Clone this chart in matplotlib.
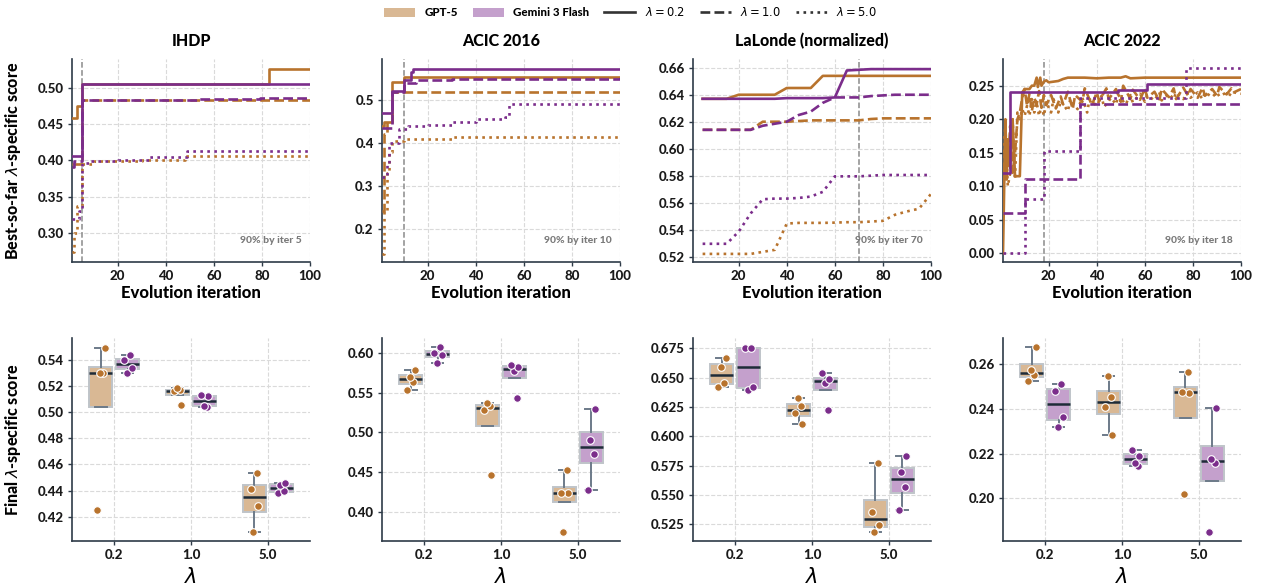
import numpy as np
import matplotlib
matplotlib.use("Agg")
import matplotlib.pyplot as plt
from matplotlib.lines import Line2D
from matplotlib.patches import Patch
from matplotlib.ticker import MultipleLocator, FormatStrFormatter
from matplotlib import font_manager

plt.rcParams['font.family'] = ['Lato', 'DejaVu Sans']
plt.rcParams['mathtext.fontset'] = 'dejavusans'

# heaviest installed Lato weight (falls back to bold)
_lato_weights = [int(f.weight) for f in font_manager.fontManager.ttflist
                 if f.name == 'Lato' and f.style == 'normal' and str(f.weight).isdigit()]
HEAVY = max([w for w in _lato_weights if w <= 900] + [700])

# ---------------------------------------------------------------- data
DATASETS = ['IHDP', 'ACIC 2016', 'LaLonde (normalized)', 'ACIC 2022']
MODELS = ['GPT-5', 'Gemini 3 Flash']
LAMBDAS = ['0.2', '1.0', '5.0']
ITER_90 = [5, 10, 70, 18]

# best-so-far curves: (iteration, score) change points
IHDP_GPT_L02 = [(1, 0.458), (3, 0.475), (5, 0.505), (83, 0.526), (100, 0.526)]
IHDP_GPT_L10 = [(1, 0.395), (5, 0.483), (100, 0.483)]
IHDP_GPT_L50 = [(1, 0.275), (2, 0.300), (3, 0.338), (5, 0.395), (10, 0.399),
                (15, 0.400), (30, 0.401), (48, 0.406), (100, 0.406)]
IHDP_GEM_L02 = [(1, 0.406), (5, 0.505), (100, 0.505)]
IHDP_GEM_L10 = [(1, 0.391), (2, 0.400), (5, 0.483), (54, 0.485), (79, 0.486), (100, 0.486)]
IHDP_GEM_L50 = [(1, 0.320), (4, 0.330), (5, 0.397), (8, 0.400), (20, 0.401),
                (33, 0.405), (49, 0.413), (100, 0.413)]

ACIC16_GPT_L02 = [(1, 0.440), (2, 0.450), (5, 0.542), (10, 0.555), (100, 0.555)]
ACIC16_GPT_L10 = [(1, 0.240), (2, 0.420), (3, 0.450), (5, 0.519), (100, 0.519)]
ACIC16_GPT_L50 = [(1, 0.140), (2, 0.240), (3, 0.330), (4, 0.380), (5, 0.405),
                  (10, 0.409), (30, 0.415), (100, 0.415)]
ACIC16_GEM_L02 = [(1, 0.470), (5, 0.522), (10, 0.547), (13, 0.565), (14, 0.573), (100, 0.573)]
ACIC16_GEM_L10 = [(1, 0.435), (5, 0.520), (10, 0.540), (15, 0.547), (30, 0.550), (100, 0.551)]
ACIC16_GEM_L50 = [(1, 0.320), (3, 0.350), (4, 0.400), (8, 0.433), (12, 0.439), (20, 0.441),
                  (30, 0.450), (40, 0.455), (52, 0.460), (54, 0.491), (100, 0.491)]

LALONDE_ITERS = [5, 10, 15, 20, 25, 30, 35, 40, 45, 50,
                 55, 60, 65, 70, 75, 80, 85, 90, 95, 100]
LALONDE_GPT_L02 = [0.637, 0.637, 0.637, 0.640, 0.640, 0.640, 0.640, 0.645, 0.645, 0.645,
                   0.654, 0.654, 0.654, 0.654, 0.654, 0.654, 0.654, 0.654, 0.654, 0.654]
LALONDE_GPT_L10 = [0.614, 0.614, 0.614, 0.614, 0.614, 0.620, 0.620, 0.620, 0.6205, 0.621,
                   0.621, 0.621, 0.621, 0.621, 0.622, 0.6225, 0.6225, 0.6225, 0.6225, 0.6225]
LALONDE_GPT_L50 = [0.522, 0.522, 0.522, 0.522, 0.522, 0.5235, 0.525, 0.5445, 0.545, 0.545,
                   0.545, 0.5452, 0.5455, 0.5455, 0.546, 0.5465, 0.551, 0.5535, 0.5555, 0.5665]
LALONDE_GEM_L02 = [0.637, 0.637, 0.637, 0.637, 0.637, 0.637, 0.637, 0.6375, 0.6375, 0.6375,
                   0.6375, 0.638, 0.658, 0.6585, 0.659, 0.659, 0.659, 0.659, 0.659, 0.659]
LALONDE_GEM_L10 = [0.614, 0.614, 0.614, 0.614, 0.614, 0.617, 0.6185, 0.620, 0.625, 0.6275,
                   0.634, 0.638, 0.638, 0.638, 0.639, 0.6395, 0.640, 0.640, 0.640, 0.640]
LALONDE_GEM_L50 = [0.5295, 0.5295, 0.5295, 0.5385, 0.552, 0.5625, 0.563, 0.563, 0.5635, 0.5645,
                   0.568, 0.5795, 0.5795, 0.5795, 0.580, 0.5805, 0.5805, 0.5805, 0.5805, 0.5805]

ACIC22_GPT_L02 = [(1, 0.000), (2, 0.200), (2.5, 0.110), (3, 0.170), (4, 0.130), (5, 0.200),
                  (6, 0.115), (8, 0.115), (9, 0.240), (10, 0.245), (12, 0.245), (13, 0.250),
                  (14, 0.250), (15, 0.262), (15.5, 0.248), (16.5, 0.262), (17, 0.250), (18, 0.256),
                  (19, 0.258), (20, 0.255), (22, 0.256), (24, 0.257), (26, 0.260), (28, 0.262),
                  (35, 0.262), (40, 0.261), (45, 0.262), (50, 0.262), (52, 0.264), (54, 0.261),
                  (60, 0.262), (100, 0.262)]
ACIC22_GPT_L10 = [(1, 0.100), (2, 0.170), (3, 0.130), (4, 0.190), (5, 0.120), (6, 0.150),
                  (7, 0.200), (8, 0.210), (9, 0.232), (10, 0.245), (11, 0.220), (12, 0.238),
                  (13, 0.212), (14, 0.232), (15, 0.222), (16, 0.242), (17, 0.217), (18, 0.236),
                  (19, 0.221), (21, 0.236), (23, 0.216), (25, 0.234), (26, 0.222), (28, 0.241),
                  (30, 0.215), (31, 0.236), (34, 0.226), (35, 0.246), (38, 0.221), (40, 0.240),
                  (41, 0.227), (44, 0.246), (45, 0.230), (48, 0.245), (50, 0.226), (51, 0.250),
                  (54, 0.230), (55, 0.244), (58, 0.229), (60, 0.246), (61, 0.232), (64, 0.241),
                  (66, 0.228), (67, 0.245), (70, 0.233), (72, 0.246), (73, 0.230), (76, 0.247),
                  (78, 0.235), (79, 0.245), (82, 0.232), (84, 0.247), (85, 0.235), (88, 0.245),
                  (90, 0.235), (91, 0.248), (94, 0.237), (96, 0.246), (97, 0.240), (100, 0.245)]
ACIC22_GPT_L50 = [(1, 0.150), (2, 0.190), (3, 0.100), (4, 0.120), (5, 0.200), (6, 0.110),
                  (7, 0.210), (8, 0.200), (9, 0.215), (10, 0.205), (11, 0.220), (12, 0.205),
                  (13, 0.230), (14, 0.210), (15, 0.225), (16, 0.205), (17, 0.220), (18, 0.205),
                  (19, 0.225), (21, 0.210), (22, 0.230), (24, 0.210), (25, 0.228), (28, 0.212),
                  (29, 0.230), (32, 0.215), (34, 0.232), (36, 0.210), (37, 0.230), (40, 0.220),
                  (42, 0.235), (43, 0.218), (46, 0.232), (48, 0.222), (49, 0.236), (52, 0.222),
                  (54, 0.236), (55, 0.225), (58, 0.238), (60, 0.226), (61, 0.236), (64, 0.228),
                  (66, 0.240), (67, 0.228), (70, 0.238), (72, 0.230), (73, 0.240), (76, 0.230),
                  (78, 0.240), (79, 0.232), (82, 0.240), (84, 0.230), (85, 0.240), (88, 0.233),
                  (90, 0.240), (91, 0.234), (94, 0.240), (96, 0.235), (97, 0.240), (100, 0.238)]
ACIC22_GEM_L02 = [(1, 0.120), (4, 0.240), (49, 0.2435), (61, 0.2525), (100, 0.2525)]
ACIC22_GEM_L10 = [(1, 0.060), (10, 0.111), (33, 0.223), (100, 0.224)]
ACIC22_GEM_L50 = [(1, 0.000), (10, 0.081), (18, 0.153), (33, 0.231), (77, 0.276), (100, 0.276)]

# final scores per seed, one list per lambda (0.2, 1.0, 5.0)
IHDP_GPT_FINAL = [[0.425, 0.530, 0.530, 0.549],
                  [0.5055, 0.516, 0.5167, 0.5185],
                  [0.4085, 0.4284, 0.4415, 0.4532]]
IHDP_GEM_FINAL = [[0.5298, 0.5339, 0.540, 0.5436],
                  [0.504, 0.505, 0.5125, 0.5135],
                  [0.4378, 0.4395, 0.4445, 0.4458]]
ACIC16_GPT_FINAL = [[0.553, 0.563, 0.570, 0.578],
                    [0.4463, 0.528, 0.5335, 0.5365],
                    [0.3754, 0.4246, 0.4246, 0.4526]]
ACIC16_GEM_FINAL = [[0.5866, 0.5967, 0.600, 0.6071],
                    [0.5428, 0.5766, 0.5825, 0.5841],
                    [0.428, 0.4727, 0.4906, 0.529]]
LALONDE_GPT_FINAL = [[0.6423, 0.6457, 0.6594, 0.667],
                     [0.6105, 0.6196, 0.6261, 0.6327],
                     [0.5187, 0.5244, 0.5355, 0.577]]
LALONDE_GEM_FINAL = [[0.6395, 0.6423, 0.6752, 0.6757],
                     [0.6224, 0.6452, 0.6489, 0.6537],
                     [0.5372, 0.5571, 0.5699, 0.5832]]
ACIC22_GPT_FINAL = [[0.2524, 0.2548, 0.2572, 0.2674],
                    [0.2282, 0.2408, 0.2453, 0.2547],
                    [0.2018, 0.2472, 0.2476, 0.2563]]
ACIC22_GEM_FINAL = [[0.2319, 0.2361, 0.248, 0.2512],
                    [0.2144, 0.2159, 0.219, 0.2215],
                    [0.1848, 0.2156, 0.2174, 0.2405]]

# ---------------------------------------------------------------- styling
LINE_COLORS = {'GPT-5': '#B8732D', 'Gemini 3 Flash': '#7B2D8B'}
FILL_COLORS = {'GPT-5': '#D9B894', 'Gemini 3 Flash': '#C4A0CC'}
LINESTYLES = {'0.2': '-', '1.0': '--', '5.0': ':'}
SPINE = '#2E3B48'
GRID = '#DADADA'

TOP_YLIM = [(0.2606, 0.5394), (0.122, 0.596), (0.516, 0.6665), (-0.013, 0.2898)]
TOP_YSTEP = [0.05, 0.1, 0.02, 0.05]
TOP_YFMT = ['%.2f', '%.1f', '%.2f', '%.2f']
BOT_YLIM = [(0.4014, 0.5568), (0.364, 0.6184), (0.5108, 0.6838), (0.181, 0.2715)]
BOT_YSTEP = [0.02, 0.05, 0.025, 0.02]
BOT_YFMT = ['%.2f', '%.2f', '%.3f', '%.2f']

step_curves = [
    {('GPT-5', '0.2'): IHDP_GPT_L02, ('GPT-5', '1.0'): IHDP_GPT_L10, ('GPT-5', '5.0'): IHDP_GPT_L50,
     ('Gemini 3 Flash', '0.2'): IHDP_GEM_L02, ('Gemini 3 Flash', '1.0'): IHDP_GEM_L10,
     ('Gemini 3 Flash', '5.0'): IHDP_GEM_L50},
    {('GPT-5', '0.2'): ACIC16_GPT_L02, ('GPT-5', '1.0'): ACIC16_GPT_L10, ('GPT-5', '5.0'): ACIC16_GPT_L50,
     ('Gemini 3 Flash', '0.2'): ACIC16_GEM_L02, ('Gemini 3 Flash', '1.0'): ACIC16_GEM_L10,
     ('Gemini 3 Flash', '5.0'): ACIC16_GEM_L50},
    None,
    {('Gemini 3 Flash', '0.2'): ACIC22_GEM_L02, ('Gemini 3 Flash', '1.0'): ACIC22_GEM_L10,
     ('Gemini 3 Flash', '5.0'): ACIC22_GEM_L50},
]
lalonde_curves = {('GPT-5', '0.2'): LALONDE_GPT_L02, ('GPT-5', '1.0'): LALONDE_GPT_L10,
                  ('GPT-5', '5.0'): LALONDE_GPT_L50, ('Gemini 3 Flash', '0.2'): LALONDE_GEM_L02,
                  ('Gemini 3 Flash', '1.0'): LALONDE_GEM_L10, ('Gemini 3 Flash', '5.0'): LALONDE_GEM_L50}
acic22_noisy = {('GPT-5', '0.2'): ACIC22_GPT_L02, ('GPT-5', '1.0'): ACIC22_GPT_L10,
                ('GPT-5', '5.0'): ACIC22_GPT_L50}

finals = [
    (IHDP_GPT_FINAL, IHDP_GEM_FINAL),
    (ACIC16_GPT_FINAL, ACIC16_GEM_FINAL),
    (LALONDE_GPT_FINAL, LALONDE_GEM_FINAL),
    (ACIC22_GPT_FINAL, ACIC22_GEM_FINAL),
]

# ---------------------------------------------------------------- figure
fig = plt.figure(figsize=(12.61, 5.87), dpi=100)
W, H = 1261.0, 587.0
lefts_px = [72, 382, 693, 1003]
ax_w = 238 / W
ax_h = 203 / H
top_axes = [fig.add_axes([l / W, 1 - 262 / H, ax_w, ax_h]) for l in lefts_px]
bot_axes = [fig.add_axes([l / W, 1 - 541 / H, ax_w, ax_h]) for l in lefts_px]

TICK_FS = 9.5


def style_axes(ax):
    for side in ('top', 'right'):
        ax.spines[side].set_visible(False)
    for side in ('left', 'bottom'):
        ax.spines[side].set_color(SPINE)
        ax.spines[side].set_linewidth(1.2)
    ax.grid(True, color=GRID, linestyle='--', linewidth=0.8)
    ax.set_axisbelow(True)
    ax.tick_params(axis='both', labelsize=TICK_FS, colors=SPINE, length=3, width=1,
                   labelcolor='#1A1A1A', pad=3)
    for lab in ax.get_xticklabels() + ax.get_yticklabels():
        lab.set_fontweight(HEAVY)


for i, ax in enumerate(top_axes):
    ax.set_xlim(1, 100)
    ax.set_ylim(*TOP_YLIM[i])
    ax.xaxis.set_major_locator(MultipleLocator(20))
    ax.yaxis.set_major_locator(MultipleLocator(TOP_YSTEP[i]))
    ax.yaxis.set_major_formatter(FormatStrFormatter(TOP_YFMT[i]))

    for model in MODELS:
        for lam in LAMBDAS:
            key = (model, lam)
            kw = dict(color=LINE_COLORS[model], linestyle=LINESTYLES[lam], lw=1.9, zorder=3)
            if i == 2:
                ax.plot(LALONDE_ITERS, lalonde_curves[key], **kw)
            elif i == 3 and model == 'GPT-5':
                pts = acic22_noisy[key]
                ax.plot([p[0] for p in pts], [p[1] for p in pts], **kw)
            else:
                pts = step_curves[i][key]
                ax.plot([p[0] for p in pts], [p[1] for p in pts], drawstyle='steps-post', **kw)

    ax.axvline(ITER_90[i], color='#8A8A8A', linestyle='--', lw=1.1, zorder=2)
    ax.text(0.965, 0.105, f'90% by iter {ITER_90[i]}', transform=ax.transAxes,
            ha='right', va='center', fontsize=7.5, color='#7A7A7A', fontweight=HEAVY, zorder=4)
    ax.set_title(DATASETS[i], fontsize=11.5, fontweight=HEAVY, pad=9)
    ax.set_xlabel('Evolution iteration', fontsize=12, fontweight=HEAVY, labelpad=2)
    style_axes(ax)

top_axes[0].set_ylabel(r'Best-so-far $\lambda$-specific score', fontsize=11.5, fontweight=HEAVY)
top_axes[0].yaxis.set_label_coords(-0.205, 0.5)

BOX_OFFSET = 0.175
BOX_WIDTH = 0.2975
JITTER = [-0.045, 0.035, -0.012, 0.05]

for i, ax in enumerate(bot_axes):
    ax.set_xlim(-0.55, 2.55)
    ax.set_ylim(*BOT_YLIM[i])
    ax.yaxis.set_major_locator(MultipleLocator(BOT_YSTEP[i]))
    ax.yaxis.set_major_formatter(FormatStrFormatter(BOT_YFMT[i]))
    for m, model in enumerate(MODELS):
        groups = finals[i][m]
        sign = -1 if m == 0 else 1
        positions = [k + sign * BOX_OFFSET for k in range(len(LAMBDAS))]
        ax.boxplot(groups, positions=positions, widths=BOX_WIDTH, patch_artist=True,
                   showfliers=False, whis=1.5, manage_ticks=False,
                   boxprops=dict(facecolor=FILL_COLORS[model], edgecolor='#BFC4C9', linewidth=1.4),
                   medianprops=dict(color='#1E2B38', linewidth=1.8),
                   whiskerprops=dict(color='#6C7A89', linewidth=1.4),
                   capprops=dict(color='#6C7A89', linewidth=1.4),
                   zorder=2)
        for k, vals in enumerate(groups):
            jit = np.roll(JITTER, k + 2 * m)
            ax.scatter(positions[k] + jit[:len(vals)], vals, s=30,
                       color=LINE_COLORS[model], edgecolors='white', linewidths=0.8, zorder=4)
    ax.set_xticks(range(len(LAMBDAS)))
    ax.set_xticklabels(LAMBDAS)
    ax.set_xlabel(r'$\lambda$', fontsize=15, labelpad=4)
    style_axes(ax)

bot_axes[0].set_ylabel(r'Final $\lambda$-specific score', fontsize=11.5, fontweight=HEAVY)
bot_axes[0].yaxis.set_label_coords(-0.205, 0.5)

handles = [
    Patch(facecolor=FILL_COLORS['GPT-5'], edgecolor='none'),
    Patch(facecolor=FILL_COLORS['Gemini 3 Flash'], edgecolor='none'),
    Line2D([], [], color='#333333', lw=1.9, linestyle='-'),
    Line2D([], [], color='#333333', lw=1.9, linestyle='--'),
    Line2D([], [], color='#333333', lw=1.9, linestyle=':'),
]
labels = ['GPT-5', 'Gemini 3 Flash', r'$\lambda = 0.2$', r'$\lambda = 1.0$', r'$\lambda = 5.0$']
leg = fig.legend(handles, labels, loc='center', bbox_to_anchor=(0.5, 1 - 12 / H), ncol=5,
                 frameon=False, fontsize=8.3, handlelength=2.7, handleheight=0.9,
                 columnspacing=1.3, handletextpad=0.8)
for t in leg.get_texts()[:2]:
    t.set_fontweight(HEAVY)

fig.savefig('out.png', dpi=100)
